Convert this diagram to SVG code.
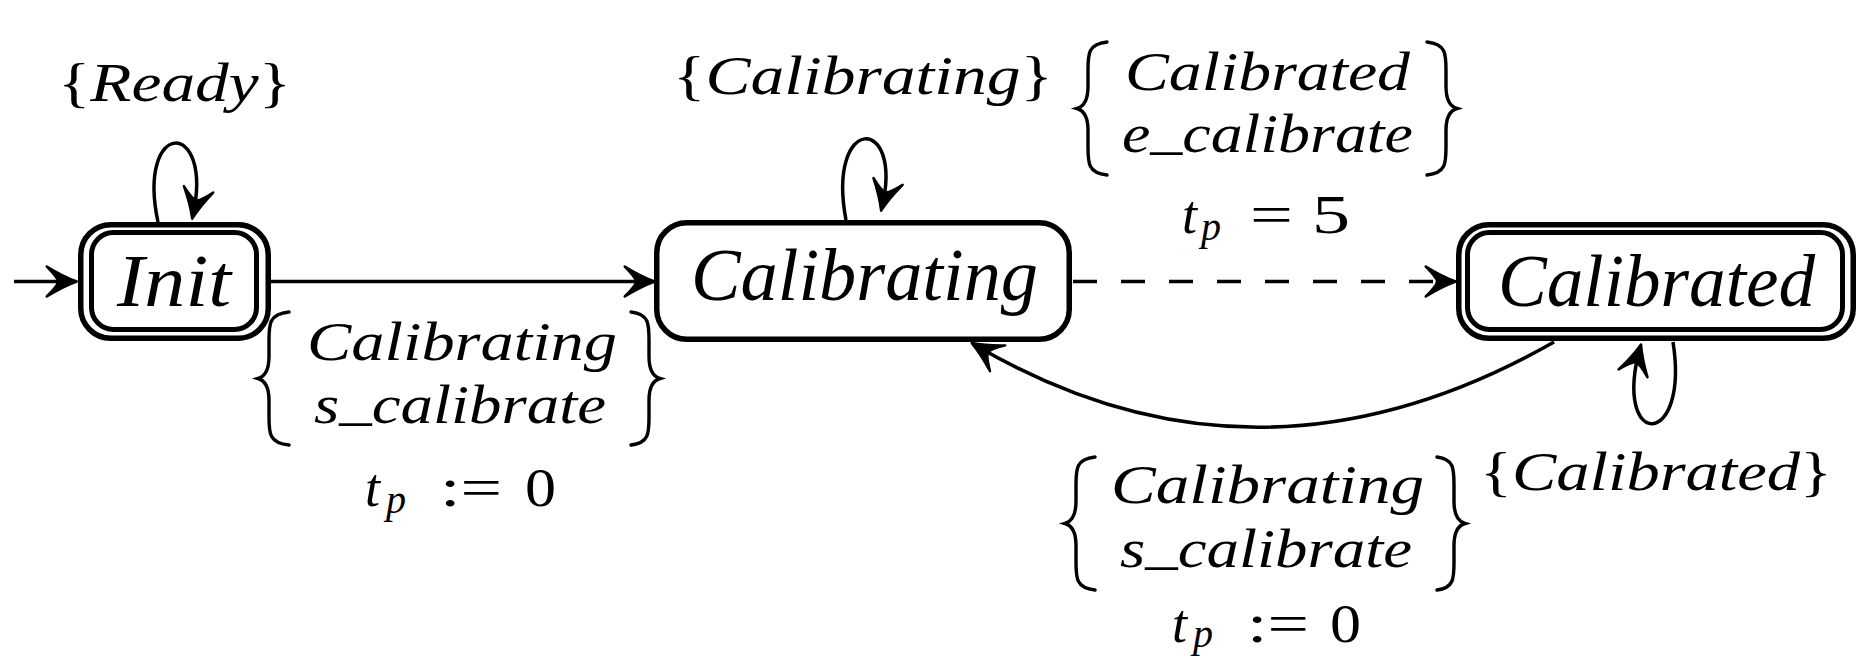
<svg xmlns="http://www.w3.org/2000/svg" width="1858" height="658" viewBox="0 0 1858 658">
<style>
.m{font-family:"Liberation Serif","Times New Roman",serif;font-style:italic;font-size:54px;fill:#000}
.n{font-size:74px}
.r{font-style:normal}
.s{font-size:40px}
.box{fill:#fff;stroke:#000;stroke-width:5.5}
.inner{fill:none;stroke:#000;stroke-width:5}
.edge{fill:none;stroke:#000;stroke-width:3.5}
.dash{stroke-dasharray:24 24}
.brace{fill:none;stroke:#000;stroke-width:3.4;stroke-linecap:round}
</style>
<defs>
<marker id="arr" markerUnits="userSpaceOnUse" markerWidth="40" markerHeight="40" viewBox="-28 -16 32 32" refX="-3" refY="0" orient="auto" overflow="visible">
<path d="M0,0 Q-11,-4 -24,-12 Q-15,-3 -15,0 Q-15,3 -24,12 Q-11,4 0,0 Z" fill="#000" stroke="#000" stroke-width="2" stroke-linejoin="round"/>
</marker>
</defs>
<rect width="1858" height="658" fill="#fff"/>

<g id="connectors">
<path class="edge" d="M14,281.5 H73" marker-end="url(#arr)"/>
<path class="edge" d="M271,281.5 H651" marker-end="url(#arr)"/>
<path class="edge dash" d="M1073,281.5 H1452" marker-end="url(#arr)"/>
<path class="edge" d="M1554,342 Q1257,511 975,345" marker-end="url(#arr)"/>
<path class="edge" d="M158,222 C136,118 214,118 193,215" marker-end="url(#arr)"/>
<path class="edge" d="M846,220 C826,114 904,114 882,207" marker-end="url(#arr)"/>
<path class="edge" d="M1673,342 C1690,450 1612,450 1640,348" marker-end="url(#arr)"/>
</g>

<g id="node-init">
<rect class="box" x="80.75" y="224.75" width="187.5" height="113.5" rx="30"/>
<rect class="inner" x="91.5" y="232.5" width="165" height="97" rx="22"/>
<text class="m n" x="117" y="306" textLength="114" lengthAdjust="spacingAndGlyphs">Init</text>
</g>

<g id="node-calibrating">
<rect class="box" x="656.75" y="222.75" width="412.5" height="116.5" rx="30"/>
<text class="m n" x="691" y="300" textLength="347" lengthAdjust="spacingAndGlyphs">Calibrating</text>
</g>

<g id="node-calibrated">
<rect class="box" x="1458.75" y="224.75" width="394.5" height="113.5" rx="30"/>
<rect class="inner" x="1467.5" y="232.5" width="375" height="97" rx="22"/>
<text class="m n" x="1498" y="306" textLength="317" lengthAdjust="spacingAndGlyphs">Calibrated</text>
</g>

<g id="labels">
<text class="m" x="58" y="101" textLength="233" lengthAdjust="spacingAndGlyphs"><tspan class="r">{</tspan>Ready<tspan class="r">}</tspan></text>
<text class="m" x="673" y="94" textLength="380" lengthAdjust="spacingAndGlyphs"><tspan class="r">{</tspan>Calibrating<tspan class="r">}</tspan></text>
<text class="m" x="1480" y="490" textLength="352" lengthAdjust="spacingAndGlyphs"><tspan class="r">{</tspan>Calibrated<tspan class="r">}</tspan></text>

<path class="brace" d="M1107,42 C1088,44 1088,54 1088,70 L1088,86.5 C1088,100.5 1084,106.5 1077,108.5 C1084,110.5 1088,116.5 1088,130.5 L1088,147 C1088,163 1088,173 1107,175"/>
<path class="brace" d="M1427,42 C1446,44 1446,54 1446,70 L1446,86.5 C1446,100.5 1450,106.5 1457,108.5 C1450,110.5 1446,116.5 1446,130.5 L1446,147 C1446,163 1446,173 1427,175"/>
<text class="m" x="1125" y="90" textLength="285" lengthAdjust="spacingAndGlyphs">Calibrated</text>
<text class="m" x="1122" y="152" textLength="291" lengthAdjust="spacingAndGlyphs">e<tspan dy="-4">_</tspan><tspan dy="4">calibrate</tspan></text>
<text class="m" x="1182" y="233">t<tspan class="s" x="1201" dy="7">p</tspan></text>
<text class="m r" x="1250" y="233" textLength="100" lengthAdjust="spacingAndGlyphs">= 5</text>

<path class="brace" d="M289,312 C269,314 269,324 269,340 L269,356.5 C269,370.5 265,376.5 258,378.5 C265,380.5 269,386.5 269,400.5 L269,417 C269,433 269,443 289,445"/>
<path class="brace" d="M631,312 C649,314 649,324 649,340 L649,356.5 C649,370.5 653,376.5 660,378.5 C653,380.5 649,386.5 649,400.5 L649,417 C649,433 649,443 631,445"/>
<text class="m" x="307" y="360" textLength="310" lengthAdjust="spacingAndGlyphs">Calibrating</text>
<text class="m" x="314" y="423" textLength="292" lengthAdjust="spacingAndGlyphs">s<tspan dy="-4">_</tspan><tspan dy="4">calibrate</tspan></text>
<text class="m" x="365" y="506">t<tspan class="s" x="386" dy="7">p</tspan></text>
<text class="m r" x="440" y="506" textLength="62" lengthAdjust="spacingAndGlyphs">:=</text>
<text class="m r" x="525" y="506" textLength="31" lengthAdjust="spacingAndGlyphs">0</text>

<path class="brace" d="M1095,457 C1076,459 1076,469 1076,485 L1076,501.5 C1076,515.5 1072,521.5 1065,523.5 C1072,525.5 1076,531.5 1076,545.5 L1076,562 C1076,578 1076,588 1095,590"/>
<path class="brace" d="M1437,457 C1454,459 1454,469 1454,485 L1454,501.5 C1454,515.5 1458,521.5 1465,523.5 C1458,525.5 1454,531.5 1454,545.5 L1454,562 C1454,578 1454,588 1437,590"/>
<text class="m" x="1111" y="503" textLength="313" lengthAdjust="spacingAndGlyphs">Calibrating</text>
<text class="m" x="1120" y="567" textLength="292" lengthAdjust="spacingAndGlyphs">s<tspan dy="-4">_</tspan><tspan dy="4">calibrate</tspan></text>
<text class="m" x="1172" y="642">t<tspan class="s" x="1193" dy="5">p</tspan></text>
<text class="m r" x="1247" y="642" textLength="62" lengthAdjust="spacingAndGlyphs">:=</text>
<text class="m r" x="1330" y="642" textLength="31" lengthAdjust="spacingAndGlyphs">0</text>
</g>
</svg>
